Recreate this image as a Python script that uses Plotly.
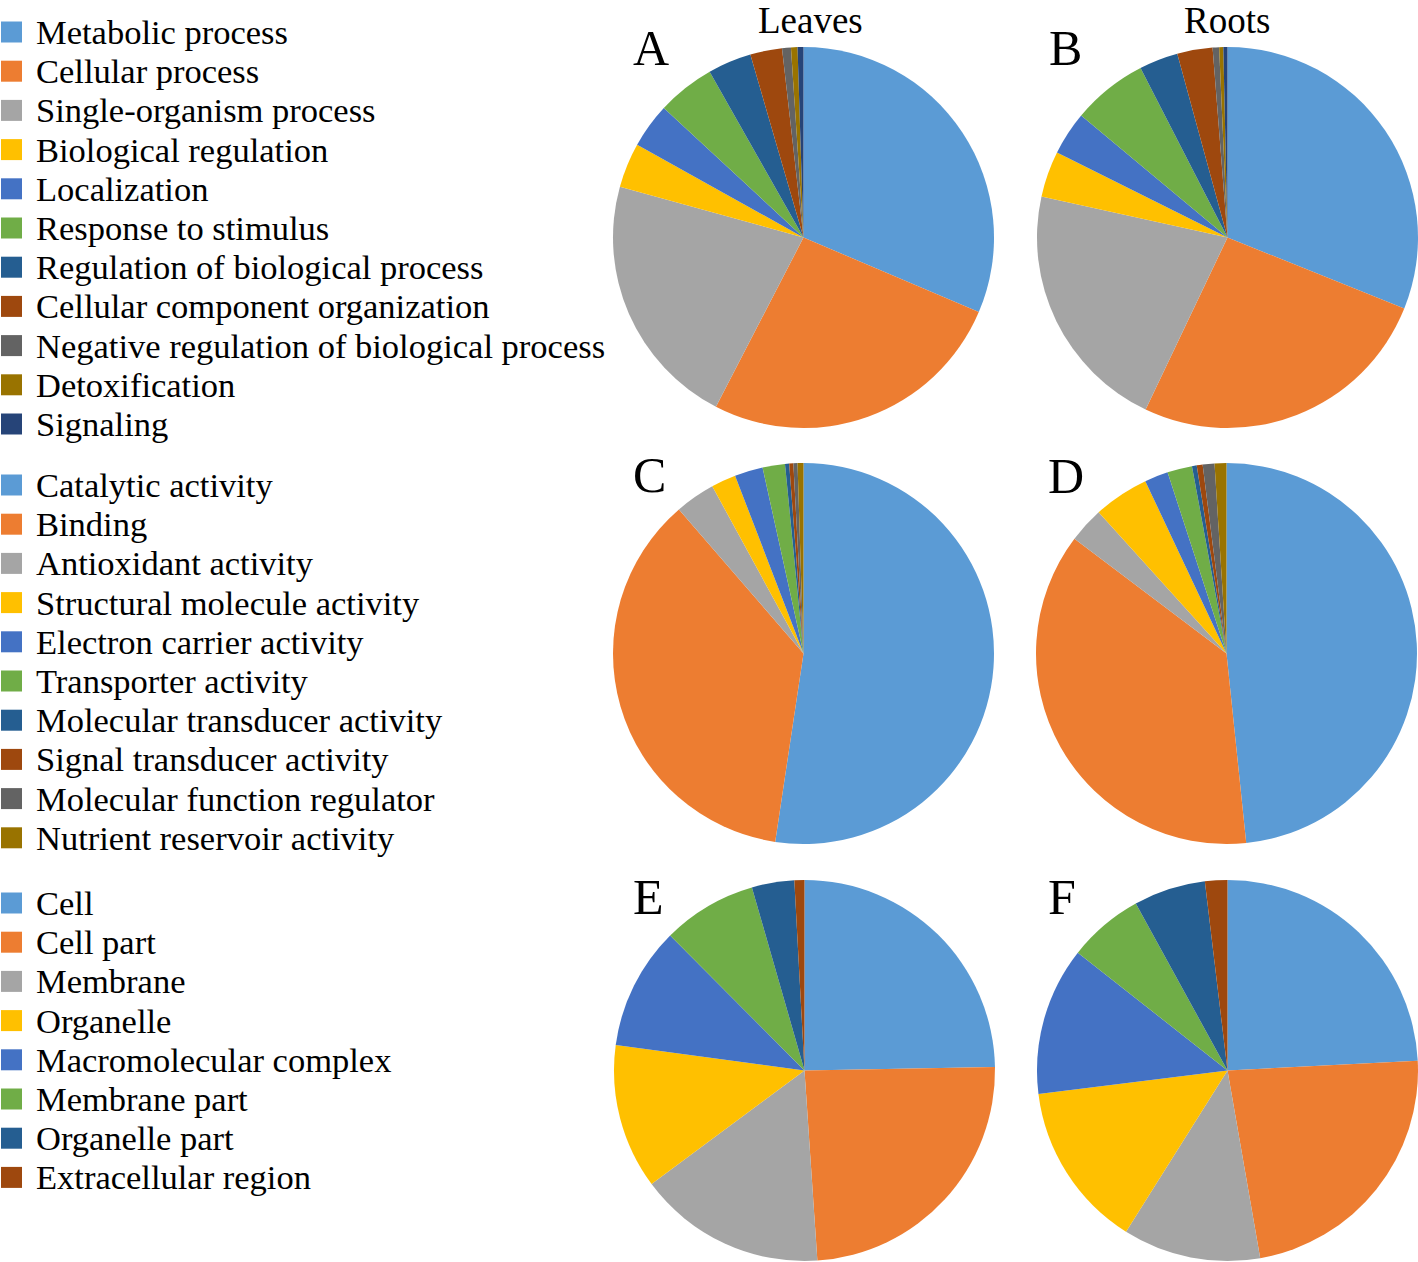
import plotly.graph_objects as go

W, H = 1418, 1262

# ---------------- data ----------------
bp_labels = ["Metabolic process", "Cellular process", "Single-organism process",
             "Biological regulation", "Localization", "Response to stimulus",
             "Regulation of biological process", "Cellular component organization",
             "Negative regulation of biological process", "Detoxification", "Signaling"]
bp_leaves = [31.4, 26.2, 21.7, 3.8, 3.8, 4.9, 3.7, 2.7, 0.75, 0.55, 0.5]
bp_roots = [31.1, 26.0, 21.4, 3.9, 3.7, 6.4, 3.3, 3.0, 0.55, 0.35, 0.35]

mf_labels = ["Catalytic activity", "Binding", "Antioxidant activity",
             "Structural molecule activity", "Electron carrier activity",
             "Transporter activity", "Molecular transducer activity",
             "Signal transducer activity", "Molecular function regulator",
             "Nutrient reservoir activity"]
mf_leaves = [52.4, 36.3, 3.4, 2.1, 2.4, 1.9, 0.35, 0.35, 0.35, 0.5]
mf_roots = [48.3, 36.9, 3.0, 4.7, 2.0, 2.1, 0.4, 0.5, 1.0, 1.0]

cc_labels = ["Cell", "Cell part", "Membrane", "Organelle", "Macromolecular complex",
             "Membrane part", "Organelle part", "Extracellular region"]
cc_leaves = [24.7, 24.2, 15.9, 12.3, 10.4, 8.0, 3.6, 0.85]
cc_roots = [24.2, 23.1, 11.7, 14.1, 12.6, 6.4, 6.1, 1.9]

column_titles = ["Leaves", "Roots"]
panel_letters = ["A", "B", "C", "D", "E", "F"]

colors = ["#5B9BD5", "#ED7D31", "#A5A5A5", "#FFC000", "#4472C4", "#70AD47",
          "#255E91", "#9E480E", "#636363", "#997300", "#264478"]

FONT = "Liberation Serif, Times New Roman, serif"


def px(x):
    return x / W


def py(y):
    return 1 - y / H


fig = go.Figure()

# pie placement in pixels: (x0, x1, ytop, ybottom)
pies = [
    (bp_labels, bp_leaves, (613, 994, 47, 428)),
    (bp_labels, bp_roots, (1037, 1418, 47, 428)),
    (mf_labels, mf_leaves, (613, 994, 463, 844)),
    (mf_labels, mf_roots, (1036, 1417, 463, 844)),
    (cc_labels, cc_leaves, (614, 995, 880, 1261)),
    (cc_labels, cc_roots, (1037, 1418, 880, 1261)),
]
for labels, vals, (x0, x1, yt, yb) in pies:
    fig.add_trace(go.Pie(
        labels=labels, values=vals, sort=False, direction="clockwise", rotation=0,
        marker=dict(colors=colors[:len(labels)], line=dict(width=0)),
        textinfo="none", hoverinfo="label+percent", showlegend=False,
        domain=dict(x=[px(x0), px(min(x1, W))], y=[py(yb), py(yt)]),
    ))

annotations = []
shapes = []

# legend groups (left side)
groups = [(bp_labels, 32), (mf_labels, 485), (cc_labels, 903)]
step = 39.2
for labels, y0 in groups:
    for i, lab in enumerate(labels):
        yc = y0 + i * step
        shapes.append(dict(type="rect", xref="paper", yref="paper",
                           x0=px(1), x1=px(22), y0=py(yc + 10.5), y1=py(yc - 10.5),
                           fillcolor=colors[i], line=dict(width=0)))
        annotations.append(dict(text=lab, x=px(34), y=py(yc), xref="paper", yref="paper",
                                xanchor="left", yanchor="middle", showarrow=False,
                                font=dict(family=FONT, size=34.5, color="black")))

# column titles
for t, xc in zip(column_titles, [810, 1227]):
    annotations.append(dict(text=t, x=px(xc), y=py(21), xref="paper", yref="paper",
                            xanchor="center", yanchor="middle", showarrow=False,
                            font=dict(family=FONT, size=37, color="black")))

# panel letters
letter_pos = [(651, 48), (1065, 48), (649, 475), (1066, 476), (648, 897), (1062, 897)]
for t, (xc, yc) in zip(panel_letters, letter_pos):
    annotations.append(dict(text=t, x=px(xc), y=py(yc), xref="paper", yref="paper",
                            xanchor="center", yanchor="middle", showarrow=False,
                            font=dict(family=FONT, size=50, color="black")))

fig.update_layout(width=W, height=H, margin=dict(l=0, r=0, t=0, b=0),
                  paper_bgcolor="white", plot_bgcolor="white",
                  annotations=annotations, shapes=shapes)

fig.write_html("out.html", config={"displayModeBar": False},
               post_script="document.body.style.margin='0';document.body.style.overflow='hidden';")
